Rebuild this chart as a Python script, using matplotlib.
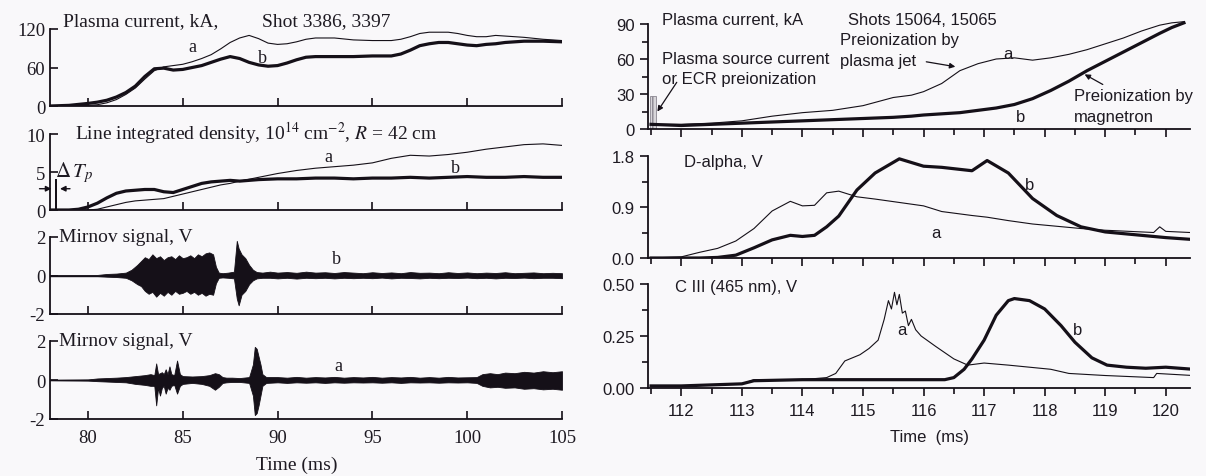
import matplotlib
matplotlib.use('Agg')
import matplotlib.pyplot as plt
from matplotlib.ticker import MultipleLocator, FormatStrFormatter

# ---------------- Left figure: shots 3386, 3397 ----------------
ip_t = [78, 79, 80, 80.5, 81, 81.5, 82, 82.5, 83, 83.5,
        84, 84.5, 85, 85.5, 86, 86.5, 87, 87.5, 88, 88.5,
        89, 89.5, 90, 90.5, 91, 91.5, 92, 93, 94, 95,
        96, 96.5, 97, 97.5, 98, 98.5, 99, 99.5, 100, 100.5,
        101, 101.5, 102, 103, 104, 105]
ip_a = [0, 0, 1, 2, 5, 10, 18, 28, 42, 55,
        61, 63, 65, 69, 74, 80, 89, 99, 106, 110,
        105, 98, 96, 97, 100, 104, 106, 106, 103, 102,
        102, 104, 108, 113, 115, 115, 115, 113, 110, 108,
        108, 110, 109, 107, 104, 102]
ip_b = [0, 1, 4, 6, 9, 14, 21, 31, 46, 58,
        59, 56, 57, 60, 63, 68, 73, 77, 74, 68,
        64, 62, 63, 67, 72, 76, 77, 77, 77, 78,
        78, 81, 87, 94, 97, 99, 99, 97, 95, 94,
        96, 97, 99, 101, 101, 100]

ne_t = [78, 79, 79.5, 80, 80.5, 81, 81.5, 82, 82.5, 83,
        83.5, 84, 84.5, 85, 85.5, 86, 86.5, 87, 87.5, 88,
        89, 90, 91, 92, 93, 94, 95, 96, 97, 98,
        99, 100, 101, 102, 103, 104, 105]
ne_a = [0, 0, 0, 0, 0.1, 0.4, 0.7, 1.0, 1.2, 1.3,
        1.4, 1.5, 1.8, 2.1, 2.4, 2.7, 3.0, 3.3, 3.5, 3.8,
        4.3, 4.8, 5.2, 5.5, 5.7, 5.9, 6.2, 6.8, 7.2, 7.1,
        7.3, 7.6, 8.0, 8.3, 8.6, 8.7, 8.5]
ne_b = [0, 0, 0.1, 0.4, 0.9, 1.6, 2.2, 2.5, 2.6, 2.7,
        2.7, 2.4, 2.3, 2.7, 3.1, 3.5, 3.7, 3.8, 3.9, 3.8,
        4.0, 4.1, 4.1, 4.2, 4.2, 4.1, 4.2, 4.2, 4.3, 4.2,
        4.3, 4.4, 4.3, 4.3, 4.4, 4.3, 4.3]
dtp_t = [78.3]
dtp_h = [4.1]

# Mirnov signal b: envelope of the oscillation (upper / lower)
mb_t = [78, 80.5, 81.0, 81.5, 82.0, 82.3, 82.6, 82.8, 83.0, 83.2,
        83.4, 83.6, 83.8, 84.0, 84.2, 84.4, 84.6, 84.8, 85.0, 85.2,
        85.4, 85.6, 85.8, 86.0, 86.2, 86.4, 86.6, 86.75, 86.9, 87.1,
        87.4, 87.7, 87.85, 87.95, 88.1, 88.3, 88.5, 88.7, 88.9, 89.2,
        89.6, 90.0, 90.5, 91, 91.5, 92, 92.5, 93, 93.5, 94,
        94.5, 95, 95.5, 96, 96.5, 97, 97.5, 98, 98.5, 99,
        99.5, 100, 100.5, 101, 101.5, 102, 102.5, 103, 103.5, 104,
        104.5, 105]
mb_hi = [0.02, 0.03, 0.08, 0.10, 0.15, 0.30, 0.55, 0.75, 0.95, 0.85,
         1.10, 0.90, 1.00, 0.80, 0.95, 1.00, 0.85, 1.05, 0.90, 0.95,
         1.05, 0.90, 1.10, 1.00, 1.15, 1.20, 1.10, 0.45, 0.15, 0.12,
         0.15, 0.20, 1.80, 1.40, 1.10, 0.90, 0.55, 0.30, 0.18, 0.15,
         0.20, 0.15, 0.18, 0.14, 0.20, 0.15, 0.17, 0.13, 0.18, 0.15,
         0.12, 0.17, 0.13, 0.16, 0.12, 0.18, 0.14, 0.15, 0.12, 0.17,
         0.13, 0.16, 0.12, 0.15, 0.13, 0.17, 0.12, 0.14, 0.16, 0.12,
         0.14, 0.12]
mb_lo = [-0.02, -0.03, -0.06, -0.08, -0.12, -0.25, -0.45, -0.55, -0.80, -0.95,
         -0.85, -1.10, -0.90, -1.05, -0.85, -1.00, -0.80, -0.95, -0.90, -0.80,
         -0.95, -0.85, -1.00, -0.90, -1.05, -0.95, -1.00, -0.40, -0.12, -0.10,
         -0.12, -0.15, -1.20, -1.55, -1.00, -0.80, -0.45, -0.25, -0.15, -0.12,
         -0.12, -0.15, -0.12, -0.16, -0.12, -0.14, -0.12, -0.15, -0.12, -0.14,
         -0.12, -0.14, -0.11, -0.15, -0.12, -0.13, -0.15, -0.12, -0.14, -0.12,
         -0.13, -0.11, -0.14, -0.12, -0.15, -0.12, -0.13, -0.11, -0.14, -0.12,
         -0.12, -0.14]

# Mirnov signal a
ma_t = [78, 80.0, 80.5, 81.0, 81.5, 82.0, 82.5, 83.0, 83.3, 83.5,
        83.6, 83.7, 83.8, 83.9, 84.0, 84.1, 84.2, 84.3, 84.4, 84.55,
        84.7, 84.85, 85.0, 85.5, 86.0, 86.4, 86.7, 86.9, 87.1, 87.3,
        87.6, 88.0, 88.5, 88.7, 88.8, 88.9, 89.0, 89.1, 89.2, 89.4,
        90, 90.5, 91, 91.5, 92, 92.5, 93, 93.5, 94, 94.5,
        95, 95.5, 96, 96.5, 97, 97.5, 98, 98.5, 99, 99.5,
        100, 100.5, 100.8, 101.2, 101.6, 102, 102.5, 103, 103.5, 104,
        104.5, 105]
ma_hi = [0.01, 0.03, 0.08, 0.10, 0.12, 0.15, 0.20, 0.25, 0.30, 0.25,
         0.85, 0.30, 0.35, 0.40, 0.30, 0.55, 0.30, 0.70, 0.30, 0.25,
         1.00, 0.30, 0.20, 0.18, 0.20, 0.25, 0.35, 0.30, 0.15, 0.12,
         0.12, 0.10, 0.15, 0.80, 1.70, 1.60, 1.20, 0.80, 0.30, 0.15,
         0.15, 0.12, 0.16, 0.12, 0.15, 0.13, 0.16, 0.12, 0.15, 0.13,
         0.16, 0.12, 0.15, 0.13, 0.16, 0.12, 0.15, 0.12, 0.16, 0.13,
         0.14, 0.15, 0.30, 0.35, 0.30, 0.38, 0.35, 0.42, 0.38, 0.45,
         0.40, 0.45]
ma_lo = [-0.01, -0.03, -0.06, -0.08, -0.10, -0.12, -0.20, -0.25, -0.30, -0.30,
         -1.30, -0.40, -0.80, -0.40, -0.30, -0.70, -0.40, -0.50, -0.30, -0.25,
         -0.70, -0.30, -0.20, -0.15, -0.20, -0.30, -0.50, -0.35, -0.15, -0.12,
         -0.10, -0.10, -0.15, -0.80, -1.80, -1.70, -1.30, -0.80, -0.30, -0.15,
         -0.12, -0.15, -0.12, -0.14, -0.12, -0.15, -0.12, -0.14, -0.12, -0.13,
         -0.12, -0.14, -0.12, -0.15, -0.12, -0.13, -0.12, -0.14, -0.12, -0.13,
         -0.12, -0.15, -0.30, -0.38, -0.35, -0.40, -0.38, -0.45, -0.42, -0.48,
         -0.45, -0.50]

# ---------------- Right figure: shots 15064, 15065 ----------------
rip_t = [111.5, 112.0, 112.5, 113.0, 113.5, 114.0, 114.5, 115.0, 115.5, 115.8,
         116.0, 116.3, 116.6, 116.9, 117.2, 117.5, 117.8, 118.1, 118.4, 118.7,
         119.0, 119.3, 119.6, 119.9, 120.1, 120.3]
rip_a = [4, 4, 5, 7, 11, 14, 16, 20, 27, 29,
         32, 39, 50, 56, 60, 61, 59, 61, 64, 68,
         73, 78, 84, 89, 91, 92]
rip_b = [4, 3, 4, 5, 6, 7, 8, 9, 10, 11,
         12, 13, 14, 16, 18, 21, 26, 33, 41, 50,
         58, 66, 74, 82, 87, 91]
src_t = [111.53]
src_h = [28]

da_t = [111.5, 112.0, 112.3, 112.6, 112.9, 113.2, 113.5, 113.8, 114.0, 114.2,
        114.4, 114.6, 114.9, 115.2, 115.6, 116.0, 116.3, 116.8, 117.05, 117.4,
        117.8, 118.2, 118.6, 119.0, 119.4, 119.8, 119.9, 120.0, 120.4]
da_a = [0.0, 0.02, 0.10, 0.17, 0.30, 0.52, 0.83, 1.00, 0.92, 0.93,
        1.15, 1.18, 1.08, 1.04, 0.98, 0.92, 0.82, 0.75, 0.72, 0.66,
        0.60, 0.56, 0.52, 0.49, 0.47, 0.45, 0.55, 0.47, 0.45]
da_b = [0.0, 0.0, 0.0, 0.01, 0.05, 0.18, 0.32, 0.40, 0.38, 0.40,
        0.55, 0.74, 1.20, 1.50, 1.75, 1.62, 1.60, 1.54, 1.72, 1.50,
        1.05, 0.75, 0.55, 0.46, 0.42, 0.38, 0.37, 0.36, 0.33]

c3a_t = [111.5, 112.0, 113.0, 113.2, 114.0, 114.4, 114.55, 114.7, 114.95, 115.1,
         115.25, 115.35, 115.42, 115.47, 115.52, 115.56, 115.6, 115.65, 115.7, 115.75,
         115.8, 115.87, 115.96, 116.2, 116.5, 116.73, 117.0, 117.4, 117.75, 118.1,
         118.4, 119.0, 119.4, 119.8, 119.85, 120.45]
c3a = [0.01, 0.01, 0.02, 0.04, 0.04, 0.05, 0.07, 0.13, 0.16, 0.19,
       0.23, 0.33, 0.42, 0.38, 0.46, 0.40, 0.45, 0.36, 0.37, 0.30,
       0.33, 0.28, 0.25, 0.20, 0.14, 0.11, 0.12, 0.11, 0.10, 0.09,
       0.07, 0.06, 0.055, 0.05, 0.07, 0.06]
c3b_t = [111.5, 112.0, 112.5, 113.0, 113.2, 114.0, 115.0, 115.8, 116.35, 116.5,
         116.67, 116.8, 117.0, 117.2, 117.4, 117.5, 117.75, 118.0, 118.27, 118.5,
         118.78, 119.03, 119.35, 119.67, 120.0, 120.45]
c3b = [0.01, 0.01, 0.015, 0.02, 0.035, 0.04, 0.04, 0.04, 0.04, 0.05,
       0.09, 0.14, 0.23, 0.35, 0.42, 0.43, 0.42, 0.38, 0.30, 0.22,
       0.145, 0.11, 0.10, 0.095, 0.10, 0.09]

# ---------------- styling ----------------
INK = '#151018'
TXT = '#1e1a22'
BG = '#f9f8fa'
THIN, THICK = 0.8, 2.3
SERIF = ['Liberation Serif', 'DejaVu Serif']
SANS = ['Liberation Sans', 'DejaVu Sans']
plt.rcParams['mathtext.fontset'] = 'stix'
plt.rcParams['axes.linewidth'] = 1.3
plt.rcParams['axes.unicode_minus'] = False

W, H = 1206, 477
fig = plt.figure(figsize=(W / 100, H / 100), dpi=100, facecolor=BG)


def box(x0, y0, x1, y1):
    return [x0 / W, 1 - y1 / H, (x1 - x0) / W, (y1 - y0) / H]


def style(ax, fam, direction, fs):
    ax.set_facecolor('none')
    for s in ('top', 'right'):
        ax.spines[s].set_visible(False)
    for s in ('left', 'bottom'):
        ax.spines[s].set_color(INK)
    ax.tick_params(which='both', direction=direction, colors=INK,
                   labelcolor=TXT, labelsize=fs, width=1.2)
    ax.tick_params(which='major', length=6)
    ax.tick_params(which='minor', length=4)
    for lab in ax.get_xticklabels() + ax.get_yticklabels():
        lab.set_family(fam)


# ---- left column ----
LX0, LX1 = 50, 562
la1 = fig.add_axes(box(LX0, 30, LX1, 107))
la2 = fig.add_axes(box(LX0, 135, LX1, 211))
la3 = fig.add_axes(box(LX0, 238, LX1, 315))
la4 = fig.add_axes(box(LX0, 342, LX1, 420))
lfs = 13.5
for ax, yl, yt in [(la1, (0, 120), [0, 60, 120]), (la2, (0, 10), [0, 5, 10]),
                   (la3, (-2, 2), [-2, 0, 2]), (la4, (-2, 2), [-2, 0, 2])]:
    ax.set_xlim(78, 105)
    ax.set_ylim(*yl)
    ax.set_yticks(yt)
    ax.set_xticks([80, 85, 90, 95, 100, 105])
    ax.tick_params(axis='x', pad=7)
    if ax is not la4:
        ax.tick_params(axis='x', labelbottom=False)
    style(ax, SERIF, 'in', lfs)

la1.plot(ip_t, ip_a, color=INK, lw=THIN)
la1.plot(ip_t, ip_b, color=INK, lw=THICK)
la1.text(78.7, 133, 'Plasma current, kA,', family=SERIF, fontsize=14, color=TXT,
         va='center', clip_on=False)
la1.text(89.2, 133, 'Shot 3386, 3397', family=SERIF, fontsize=14, color=TXT,
         va='center', clip_on=False)
la1.text(85.5, 93, 'a', family=SERIF, fontsize=13, color=TXT, ha='center', va='center')
la1.text(89.2, 76, 'b', family=SERIF, fontsize=13, color=TXT, ha='center', va='center')

la2.plot(ne_t, ne_a, color=INK, lw=THIN)
la2.plot(ne_t, ne_b, color=INK, lw=THICK)
la2.bar(dtp_t, dtp_h, width=0.12, color=INK, align='center')
la2.annotate('', xy=(78.22, 2.8), xytext=(77.3, 2.8),
             arrowprops=dict(arrowstyle='-|>', color=INK, lw=1.0, mutation_scale=8),
             annotation_clip=False)
la2.annotate('', xy=(78.38, 2.8), xytext=(79.2, 2.8),
             arrowprops=dict(arrowstyle='-|>', color=INK, lw=1.0, mutation_scale=8),
             annotation_clip=False)
la2.text(78.25, 5.0, r'$\Delta\, T_p$', fontsize=15, color=TXT, va='center')
la2.text(79.3, 10.2, r'Line integrated density, 10$^{14}$ cm$^{-2}$, $R$ = 42 cm',
         family=SERIF, fontsize=14, color=TXT, va='center', clip_on=False)
la2.text(92.7, 7.0, 'a', family=SERIF, fontsize=13, color=TXT, ha='center', va='center')
la2.text(99.4, 5.6, 'b', family=SERIF, fontsize=13, color=TXT, ha='center', va='center')

la3.fill_between(mb_t, mb_lo, mb_hi, color=INK, lw=0.6)
la3.plot(mb_t, [0] * len(mb_t), color=INK, lw=1.0)
la3.text(78.5, 2.0, 'Mirnov signal, V', family=SERIF, fontsize=14, color=TXT,
         va='center', clip_on=False)
la3.text(93.1, 0.9, 'b', family=SERIF, fontsize=13, color=TXT, ha='center', va='center')

la4.fill_between(ma_t, ma_lo, ma_hi, color=INK, lw=0.6)
la4.plot(ma_t, [0] * len(ma_t), color=INK, lw=1.0)
la4.text(78.5, 2.0, 'Mirnov signal, V', family=SERIF, fontsize=14, color=TXT,
         va='center', clip_on=False)
la4.text(93.2, 0.75, 'a', family=SERIF, fontsize=13, color=TXT, ha='center', va='center')
fig.text((LX0 + (91 - 78) / 27 * (LX1 - LX0)) / W, 1 - 465 / H, 'Time (ms)',
         family=SERIF, fontsize=14, color=TXT, ha='center', va='center')

# ---- right column ----
RX0, RX1 = 648, 1190
ra1 = fig.add_axes(box(RX0, 25, RX1, 130))
ra2 = fig.add_axes(box(RX0, 157, RX1, 259))
ra3 = fig.add_axes(box(RX0, 285, RX1, 389))
rfs = 12
for ax, yl, ymaj, fmt in [(ra1, (0, 90), 30, '%d'), (ra2, (0, 1.8), 0.9, '%.1f'),
                          (ra3, (0, 0.5), 0.25, '%.2f')]:
    ax.set_xlim(111.45, 120.4)
    ax.set_ylim(*yl)
    ax.yaxis.set_major_locator(MultipleLocator(ymaj))
    ax.yaxis.set_minor_locator(MultipleLocator(ymaj / 2))
    ax.yaxis.set_major_formatter(FormatStrFormatter(fmt))
    ax.xaxis.set_major_locator(MultipleLocator(1))
    ax.xaxis.set_minor_locator(MultipleLocator(0.5))
    ax.tick_params(axis='x', pad=5)
    if ax is not ra3:
        ax.tick_params(axis='x', labelbottom=False)
    style(ax, SANS, 'out', rfs)

ra1.bar(src_t, src_h, width=0.1, color='#d8d6da', edgecolor='#8a8690',
        hatch='|||', lw=0.6)
ra1.plot(rip_t, rip_a, color=INK, lw=THIN, clip_on=False)
ra1.plot(rip_t, rip_b, color=INK, lw=THICK, clip_on=False)
ra1.text(111.68, 94, 'Plasma current, kA', family=SANS, fontsize=12, color=TXT,
         va='center', clip_on=False)
ra1.text(114.75, 94, 'Shots 15064, 15065', family=SANS, fontsize=12, color=TXT,
         va='center', clip_on=False)
ra1.text(111.68, 60, 'Plasma source current', family=SANS, fontsize=12, color=TXT,
         va='center')
ra1.text(111.68, 43, 'or ECR preionization', family=SANS, fontsize=12, color=TXT,
         va='center')
ra1.annotate('', xy=(111.58, 13), xytext=(111.95, 42),
             arrowprops=dict(arrowstyle='-|>', color=INK, lw=0.9, mutation_scale=8))
ra1.text(114.62, 77, 'Preionization by', family=SANS, fontsize=12, color=TXT, va='center')
ra1.text(114.62, 59, 'plasma jet', family=SANS, fontsize=12, color=TXT, va='center')
ra1.annotate('', xy=(116.57, 53), xytext=(116.0, 58),
             arrowprops=dict(arrowstyle='-|>', color=INK, lw=0.9, mutation_scale=8))
ra1.text(118.49, 29, 'Preionization by', family=SANS, fontsize=12, color=TXT,
         va='center', clip_on=False)
ra1.text(118.49, 11, 'magnetron', family=SANS, fontsize=12, color=TXT, va='center')
ra1.annotate('', xy=(118.62, 48), xytext=(119.0, 37),
             arrowprops=dict(arrowstyle='-|>', color=INK, lw=0.9, mutation_scale=8))
ra1.text(117.4, 65, 'a', family=SANS, fontsize=12, color=TXT, ha='center', va='center')
ra1.text(117.6, 11, 'b', family=SANS, fontsize=12, color=TXT, ha='center', va='center')

ra2.plot(da_t, da_a, color=INK, lw=THIN)
ra2.plot(da_t, da_b, color=INK, lw=THICK)
ra2.text(112.05, 1.7, 'D-alpha, V', family=SANS, fontsize=12, color=TXT, va='center')
ra2.text(116.2, 0.45, 'a', family=SANS, fontsize=12, color=TXT, ha='center', va='center')
ra2.text(117.75, 1.3, 'b', family=SANS, fontsize=12, color=TXT, ha='center', va='center')

ra3.plot(c3a_t, c3a, color=INK, lw=THIN)
ra3.plot(c3b_t, c3b, color=INK, lw=THICK)
ra3.text(111.9, 0.49, 'C III (465 nm), V', family=SANS, fontsize=12, color=TXT,
         va='center')
ra3.text(115.65, 0.28, 'a', family=SANS, fontsize=12, color=TXT, ha='center', va='center')
ra3.text(118.55, 0.28, 'b', family=SANS, fontsize=12, color=TXT, ha='center', va='center')
fig.text((RX0 + (116.1 - 111.45) / 8.95 * (RX1 - RX0)) / W, 1 - 438 / H, 'Time  (ms)',
         family=SANS, fontsize=12, color=TXT, ha='center', va='center')

fig.savefig('out.png', dpi=100, facecolor=BG)
